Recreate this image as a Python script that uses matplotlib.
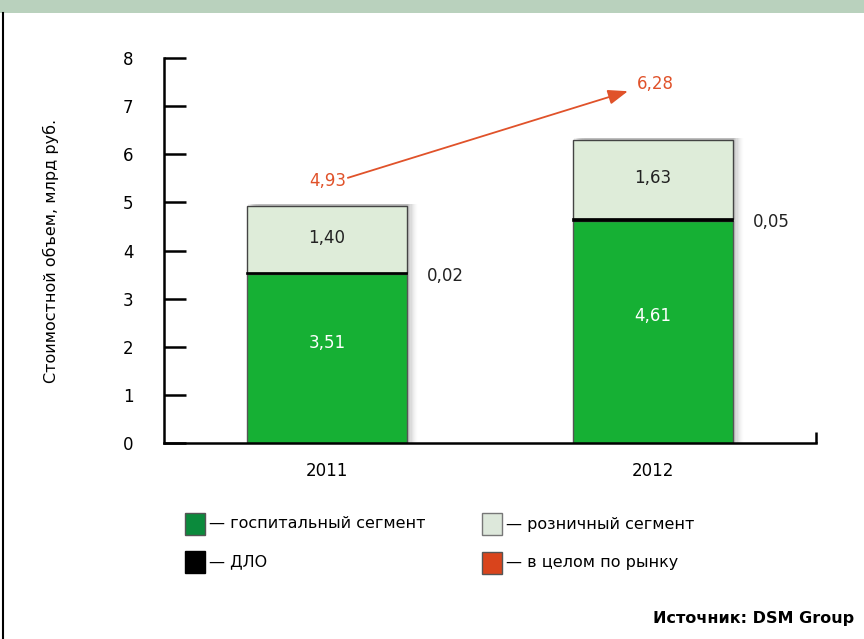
import matplotlib
matplotlib.use('Agg')
import matplotlib.pyplot as plt
from matplotlib.patches import Rectangle
import numpy as np

# данные
years = ['2011', '2012']
hospital = [3.51, 4.61]      # госпитальный сегмент
dlo = [0.02, 0.05]           # ДЛО
retail = [1.40, 1.63]        # розничный сегмент
total_labels = ['4,93', '6,28']
y_ticks = [0, 1, 2, 3, 4, 5, 6, 7, 8]

plt.rcParams['font.family'] = ['DejaVu Sans']

c_hosp = '#16b034'
c_retail = '#deecd9'
c_orange = '#e0522a'

fig = plt.figure(figsize=(8.64, 6.39), dpi=100)

# верхняя полоса и рамка слева
fig.patches.append(Rectangle((0, 1 - 13 / 639), 1, 13 / 639, transform=fig.transFigure,
                             facecolor='#b9d1bd', edgecolor='none', zorder=0))
fig.lines.append(plt.Line2D([2.5 / 864, 2.5 / 864], [0, 1 - 13 / 639], transform=fig.transFigure,
                            color='black', lw=1.5))

ax = fig.add_axes([164 / 864, 1 - 443 / 639, 652 / 864, 385 / 639])
x = np.arange(len(years)) + 0.5
w = 0.49

hospital = np.array(hospital)
dlo = np.array(dlo)
retail = np.array(retail)
tops = hospital + dlo + retail

# тень справа от столбцов
for k in range(10):
    a = 0.05 * (1 - k / 10)
    for xi, t in zip(x, tops):
        ax.add_patch(Rectangle((xi - w / 2 + 0.004 + k * 0.0035, 0), w, t + 0.04,
                               facecolor='black', alpha=a, edgecolor='none', zorder=1))

ax.bar(x, hospital, w, color=c_hosp, edgecolor='#555555', lw=1, zorder=2)
ax.bar(x, dlo, w, bottom=hospital, color='black', edgecolor='black', lw=1.2, zorder=3)
ax.bar(x, retail, w, bottom=hospital + dlo, color=c_retail, edgecolor='#444444', lw=1, zorder=2)

for i in range(len(years)):
    ax.text(x[i], hospital[i] / 2 + 0.33, f'{hospital[i]:.2f}'.replace('.', ','), ha='center', va='center',
            color='white', fontsize=12, zorder=4)
    ax.text(x[i], hospital[i] + dlo[i] + retail[i] / 2 + 0.04, f'{retail[i]:.2f}'.replace('.', ','),
            ha='center', va='center', color='#222222', fontsize=12, zorder=4)
    ax.text(x[i] + w / 2 + 0.06, hospital[i] + dlo[i] - 0.07, f'{dlo[i]:.2f}'.replace('.', ','),
            ha='left', va='center', color='#222222', fontsize=12, zorder=4)

# итоговые значения и стрелка
ax.text(x[0] + 0.003, tops[0] + 0.52, total_labels[0], ha='center', va='center', color=c_orange, fontsize=12)
ax.text(x[1] + 0.006, tops[1] + 1.16, total_labels[1], ha='center', va='center', color=c_orange, fontsize=12)
ax.annotate('', xy=(x[1] - 0.077, tops[1] + 1.02), xytext=(x[0] + 0.064, tops[0] + 0.58),
            arrowprops=dict(arrowstyle='-|>,head_length=1.2,head_width=0.45', color=c_orange, lw=1.3,
                            shrinkA=0, shrinkB=0))

ax.set_xlim(0, 2)
ax.set_ylim(0, 8)
ax.set_yticks(y_ticks)
ax.set_yticklabels([str(v) for v in y_ticks], fontsize=12)
ax.tick_params(axis='y', direction='in', length=16, width=1.8, pad=22, colors='black')
ax.set_xticks(x)
ax.set_xticklabels(years, fontsize=12)
ax.tick_params(axis='x', length=0, pad=14)
ax.set_xticks([2], minor=True)
ax.tick_params(axis='x', which='minor', direction='in', length=8, width=1.8)
for s in ['top', 'right']:
    ax.spines[s].set_visible(False)
ax.spines['left'].set_linewidth(1.8)
ax.spines['bottom'].set_linewidth(1.8)
ax.set_ylabel('Стоимостной объем, млрд руб.', fontsize=11.5, labelpad=46)

# легенда
def leg_item(xp, yp, color, edge, label):
    fig.patches.append(Rectangle((xp / 864, 1 - (yp + 11) / 639), 20 / 864, 22 / 639,
                                 transform=fig.transFigure, facecolor=color, edgecolor=edge, lw=1))
    fig.text((xp + 24) / 864, 1 - yp / 639, '— ' + label, fontsize=11.5, va='center', ha='left')

leg_item(185, 524, '#0b8a3c', '#555555', 'госпитальный сегмент')
leg_item(482, 524, '#dde8db', '#777777', 'розничный сегмент')
leg_item(185, 562, 'black', 'black', 'ДЛО')
leg_item(482, 563, '#d9441c', '#555555', 'в целом по рынку')

fig.text(854 / 864, 1 - 618 / 639, 'Источник: DSM Group', fontsize=11.5, fontweight='bold',
         ha='right', va='center')

fig.savefig('out.png', dpi=100)
